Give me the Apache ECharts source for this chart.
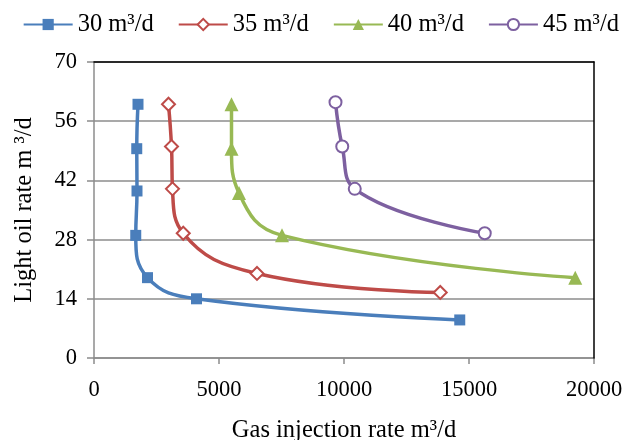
<!DOCTYPE html>
<html>
<head>
<meta charset="utf-8">
<script src="https://cdn.jsdelivr.net/npm/echarts@6/dist/echarts.min.js"></script>
<style>html,body{margin:0;padding:0;background:#fff}#c{width:624px;height:440px}</style>
</head>
<body>
<div id="c"></div>
<script>
const seriesNames = ['30 m³/d', '35 m³/d', '40 m³/d', '45 m³/d'];
const gas30 = [1760, 1710, 1720, 1670, 2140, 4100, 14630];
const oil30 = [60, 49.5, 39.5, 29, 19, 14, 9];
const gas35 = [2980, 3100, 3140, 3570, 6520, 13850];
const oil35 = [60, 50, 40, 29.5, 20, 15.5];
const gas40 = [5500, 5500, 5800, 7520, 19250];
const oil40 = [60, 49.5, 39, 29, 19];
const gas45 = [9660, 9930, 10430, 15630];
const oil45 = [60.5, 50, 40, 29.5];
const xTicks = [0, 5000, 10000, 15000, 20000];
const yTicks = [0, 14, 28, 42, 56, 70];

const zip = (a, b) => a.map((v, i) => [v, b[i]]);
const font = 'Liberation Serif';
const colors = ['#4A7EBB', '#BE4B48', '#98B954', '#7D60A0'];
const gray = '#8C8C8C';

const mk = (name, data, color, symbol, size, hollow) => ({
  name, type: 'line', data, smooth: 0.45,
  symbol, symbolSize: size, showSymbol: true,
  lineStyle: { color, width: 3.5 },
  itemStyle: { color: hollow ? '#fff' : color, borderColor: color, borderWidth: hollow ? 2 : 0 },
  emphasis: { disabled: true },
  z: 5
});

const chart = echarts.init(document.getElementById('c'), null, { renderer: 'canvas' });
chart.setOption({
  animation: false,
  backgroundColor: '#fff',
  textStyle: { fontFamily: font, color: '#000' },
  legend: {
    top: 7, right: 0, padding: 5,
    itemWidth: 49, itemHeight: 14, itemGap: 24,
    textStyle: { fontFamily: font, fontSize: 24.5, color: '#000' },
    data: seriesNames
  },
  grid: { left: 94, right: 30, top: 62, bottom: 82, outerBoundsMode: 'none', containLabel: false },
  xAxis: [{
    type: 'value', min: 0, max: 20000, interval: 5000,
    name: 'Gas injection rate m³/d', nameLocation: 'middle', nameGap: 60,
    nameTextStyle: { fontFamily: font, fontSize: 24.5, color: '#000' },
    axisLine: { show: true, lineStyle: { color: gray, width: 1.5 } },
    axisTick: { show: true, length: 6, lineStyle: { color: gray, width: 1.5 } },
    axisLabel: { fontFamily: font, fontSize: 22.5, color: '#000', margin: 21,
      formatter: v => xTicks.includes(v) ? String(v) : '' },
    splitLine: { show: false }
  }, {
    type: 'value', position: 'top', min: 0, max: 20000, interval: 5000,
    axisLine: { show: true, onZero: false, lineStyle: { color: '#000', width: 1.5 } },
    axisTick: { show: false }, axisLabel: { show: false }, splitLine: { show: false }, z: 10
  }],
  yAxis: [{
    type: 'value', min: 0, max: 70, interval: 14,
    name: 'Light oil rate m ³/d', nameLocation: 'middle', nameGap: 57, nameRotate: 90,
    nameTextStyle: { fontFamily: font, fontSize: 24.5, color: '#000' },
    axisLine: { show: true, lineStyle: { color: gray, width: 1.5 } },
    axisTick: { show: true, length: 7, lineStyle: { color: gray, width: 1.5 } },
    axisLabel: { fontFamily: font, fontSize: 22.5, color: '#000', margin: 17,
      formatter: v => yTicks.includes(v) ? String(v) : '' },
    splitLine: { show: true, lineStyle: { color: gray, width: 1.5 } }
  }, {
    type: 'value', position: 'right', min: 0, max: 70, interval: 14,
    axisLine: { show: true, onZero: false, lineStyle: { color: '#000', width: 1.5 } },
    axisTick: { show: false }, axisLabel: { show: false }, splitLine: { show: false }, z: 10
  }],
  series: [
    mk(seriesNames[0], zip(gas30, oil30), colors[0], 'rect', 11, false),
    mk(seriesNames[1], zip(gas35, oil35), colors[1], 'diamond', 13, true),
    mk(seriesNames[2], zip(gas40, oil40), colors[2], 'triangle', 14, false),
    mk(seriesNames[3], zip(gas45, oil45), colors[3], 'circle', 12, true)
  ]
});
</script>
</body>
</html>
